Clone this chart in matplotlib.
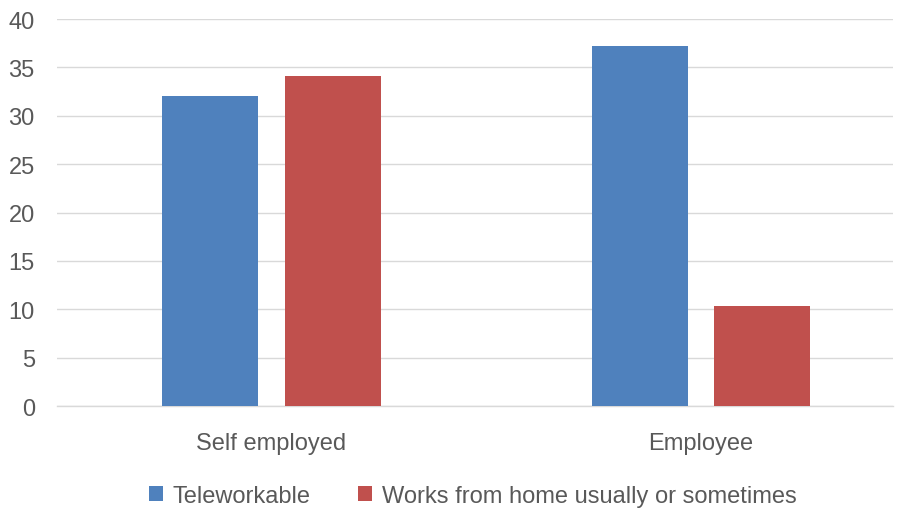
import matplotlib.pyplot as plt
import numpy as np

categories = ["Self employed", "Employee"]
teleworkable = [32.0, 37.2]
works_from_home = [34.1, 10.3]
series_labels = ["Teleworkable", "Works from home usually or sometimes"]
y_ticks = [0, 5, 10, 15, 20, 25, 30, 35, 40]

plt.rcParams["font.family"] = ["Liberation Sans", "DejaVu Sans"]

fig = plt.figure(figsize=(8.97, 5.10), dpi=100)
ax = fig.add_axes([57 / 897, 1 - 407 / 510, (893 - 57) / 897, (407 - 20) / 510])

x = np.arange(len(categories))
width = 0.2235
offset = 0.143
ax.bar(x - offset, teleworkable, width, color="#4F81BD", label=series_labels[0], zorder=3)
ax.bar(x + offset, works_from_home, width, color="#C0504D", label=series_labels[1], zorder=3)

ax.set_xlim(-0.4994, 1.447)
ax.set_ylim(0, 40)
ax.set_yticks(y_ticks)
ax.set_xticks(x)
ax.set_xticklabels(categories)
ax.yaxis.grid(True, color="#D9D9D9", linewidth=1)
ax.axhline(0, color="#D9D9D9", linewidth=1, clip_on=False, zorder=2)
for s in ax.spines.values():
    s.set_visible(False)
ax.tick_params(axis="both", length=0, labelsize=17, colors="#595959")
ax.tick_params(axis="y", pad=16)
ax.tick_params(axis="x", pad=19)

fig.legend(loc="center", bbox_to_anchor=(0.527, 1 - 497 / 510), ncol=2, frameon=False,
           fontsize=17, labelcolor="#595959", handlelength=0.6, handleheight=0.6,
           columnspacing=2.0, handletextpad=0.4)

fig.savefig("out.png", dpi=100)
